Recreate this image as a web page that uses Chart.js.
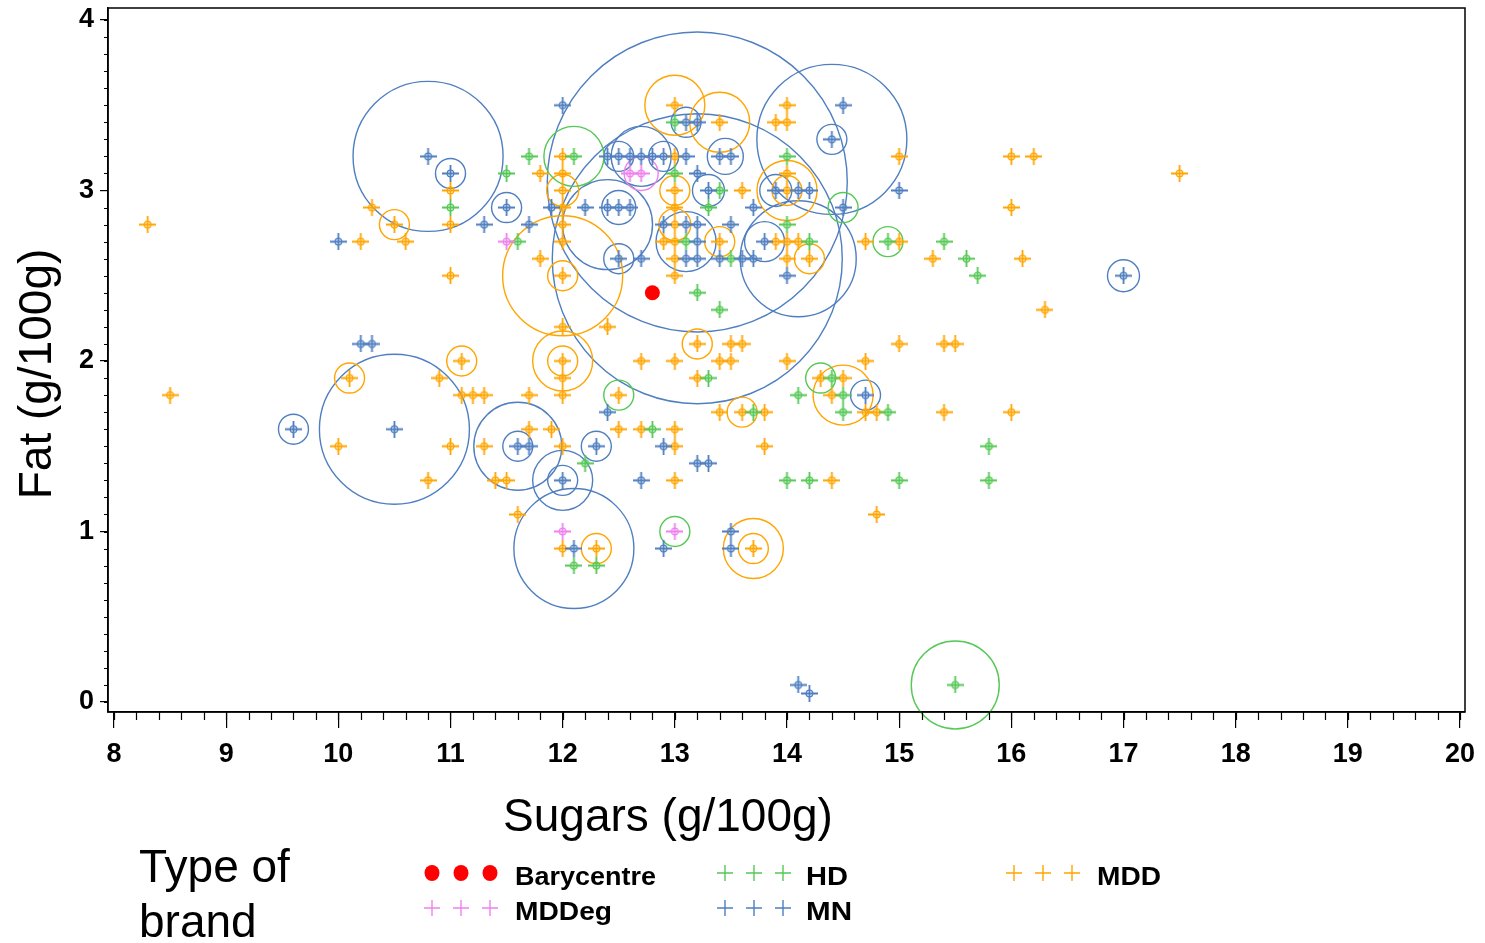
<!DOCTYPE html>
<html>
<head>
<meta charset="utf-8">
<script src="https://cdn.jsdelivr.net/npm/chart.js@4/dist/chart.umd.min.js"></script>
<style>
  html, body { margin: 0; padding: 0; background: #fff; }
  #wrap { width: 1485px; height: 943px; position: relative; }
</style>
</head>
<body>
<div id="wrap"><canvas id="chart" width="1485" height="943"></canvas></div>
<script>
// tick labels
const xTicks = [8, 9, 10, 11, 12, 13, 14, 15, 16, 17, 18, 19, 20];
const yTicks = [0, 1, 2, 3, 4];

// products: [sugars, fat]
const barycentre = [[12.8, 2.4]];

const mnPoints = [
  [10.0,2.7],[10.8,3.2],[11.0,3.1],[11.3,2.8],[11.5,2.9],[11.7,2.8],[11.9,2.9],[12.0,3.5],[12.2,2.9],
  [12.4,2.9],[12.5,2.9],[12.6,2.9],[12.5,2.6],[12.7,2.6],[12.4,3.2],[12.5,3.2],[12.6,3.2],[12.7,3.2],
  [12.8,3.2],[12.9,3.2],[13.1,3.2],[13.1,3.4],[13.2,3.4],[13.2,3.1],[13.3,3.0],[13.4,3.2],[13.5,3.2],
  [13.7,2.9],[12.9,2.8],[13.1,2.8],[13.2,2.8],[13.5,2.8],[13.2,2.7],[13.1,2.6],[13.2,2.6],[13.4,2.6],
  [13.6,2.6],[13.7,2.6],[13.8,2.7],[13.9,3.0],[14.1,3.0],[14.2,3.0],[14.0,2.5],[14.4,3.3],[14.5,3.5],
  [14.5,2.9],[15.0,3.0],[17.0,2.5],[10.2,2.1],[10.3,2.1],[9.6,1.6],[10.5,1.6],[11.6,1.5],[11.7,1.5],
  [12.3,1.5],[12.0,1.3],[12.4,1.7],[12.9,1.5],[13.2,1.4],[13.3,1.4],[12.7,1.3],[12.1,0.9],[12.9,0.9],
  [13.5,1.0],[13.5,0.9],[14.7,1.8],[14.1,0.1],[14.2,0.05]
];

const hdPoints = [
  [11.0,2.9],[11.5,3.1],[11.7,3.2],[11.6,2.7],[12.1,3.2],[13.0,3.4],[13.0,3.1],[13.4,3.0],[13.3,2.9],
  [13.1,2.7],[13.5,2.6],[14.2,2.7],[14.0,3.2],[14.0,2.8],[13.2,2.4],[13.4,2.3],[14.9,2.7],[15.4,2.7],
  [15.6,2.6],[15.7,2.5],[12.2,1.4],[12.8,1.6],[12.1,0.8],[12.3,0.8],[13.3,1.9],[13.7,1.7],[14.1,1.8],
  [14.4,1.9],[14.5,1.8],[14.5,1.7],[14.9,1.7],[14.0,1.3],[14.2,1.3],[15.0,1.3],[15.8,1.5],[15.8,1.3],
  [15.5,0.1]
];

const mddegPoints = [[11.5,2.7],[12.6,3.1],[12.7,3.1],[12.0,1.0],[13.0,1.0]];

const mddPoints = [
  [8.3,2.8],[8.5,1.8],[10.2,2.7],[10.3,2.9],[10.5,2.8],[10.6,2.7],[11.0,3.0],[11.0,2.8],[11.0,2.5],
  [11.8,3.1],[11.8,2.6],[12.0,3.2],[12.0,3.1],[12.0,3.0],[12.0,2.9],[12.0,2.8],[12.0,2.7],[12.0,2.5],
  [12.0,2.2],[12.4,2.2],[13.0,3.5],[13.4,3.4],[13.9,3.4],[14.0,3.4],[14.0,3.5],[15.0,3.2],[13.0,3.2],
  [13.0,3.0],[13.0,2.9],[13.0,2.8],[12.9,2.7],[13.0,2.7],[13.0,2.6],[13.0,2.5],[13.4,2.7],[13.6,3.0],
  [14.0,3.1],[14.0,3.0],[13.9,2.7],[14.0,2.7],[14.1,2.7],[14.0,2.6],[14.2,2.6],[14.7,2.7],[15.0,2.7],
  [15.3,2.6],[16.0,3.2],[16.2,3.2],[16.0,2.9],[16.1,2.6],[16.3,2.3],[17.5,3.1],
  [10.1,1.9],[10.0,1.5],[11.0,1.5],[10.8,1.3],[10.9,1.9],[11.1,2.0],[11.1,1.8],[11.2,1.8],[11.3,1.8],
  [11.7,1.8],[11.3,1.5],[11.7,1.6],[11.9,1.6],[11.4,1.3],[11.5,1.3],[11.6,1.1],[12.0,2.0],[12.0,1.9],
  [12.0,1.8],[12.0,1.5],[12.0,0.9],[12.3,0.9],[12.5,1.8],[12.5,1.6],[12.7,1.6],[13.0,1.6],[13.0,1.5],
  [13.0,1.3],[12.7,2.0],[13.0,2.0],[13.2,2.1],[13.5,2.1],[13.6,2.1],[13.4,2.0],[13.5,2.0],[13.2,1.9],
  [14.0,2.0],[13.4,1.7],[13.6,1.7],[13.8,1.7],[13.8,1.5],[13.7,0.9],[14.4,1.3],[14.8,1.1],[15.0,2.1],
  [15.4,2.1],[15.5,2.1],[14.7,2.0],[14.3,1.9],[14.5,1.9],[14.4,1.8],[14.7,1.7],[14.8,1.7],[15.4,1.7],
  [16.0,1.7]
];

// group circles: [sugars, fat, bubble size]
const mnCircles = [
  [10.8,3.2,75],[11.0,3.1,15],[11.5,2.9,15],[12.5,2.9,17],[12.5,2.6,15],[12.7,3.2,30],[12.4,2.8,45],
  [13.2,3.05,150],[13.2,2.6,145],[14.4,3.3,75],[14.4,3.3,15],[13.8,2.7,20],[14.1,2.6,58],[13.1,2.7,30],
  [13.3,3.0,16],[13.9,3.0,16],[13.1,3.4,15],[13.45,3.2,18],[12.5,3.2,15],[12.9,3.2,15],[14.7,1.8,15],
  [17.0,2.5,16],[9.6,1.6,15],[10.5,1.6,75],[11.6,1.5,44],[11.6,1.5,15],[12.3,1.5,15],[12.0,1.3,15],
  [12.0,1.3,30],[12.1,0.9,60]
];
const mddCircles = [
  [10.5,2.8,15],[12.0,2.5,60],[12.0,2.5,15],[12.0,3.0,16],[13.0,3.5,30],[13.4,3.4,30],[13.0,3.0,15],
  [13.0,2.8,16],[13.4,2.7,15],[14.0,3.0,30],[14.0,3.0,15],[14.2,2.6,15],[10.1,1.9,15],[11.1,2.0,15],
  [12.0,2.0,15],[12.0,2.0,30],[12.3,0.9,15],[13.2,2.1,15],[13.6,1.7,15],[14.5,1.8,30],[13.7,0.9,15],
  [13.7,0.9,30]
];
const hdCircles = [[12.1,3.2,30],[14.5,2.9,15],[14.9,2.7,15],[12.5,1.8,15],[14.3,1.9,15],[13.0,1.0,15],[15.5,0.1,44]];
const mddegCircles = [[12.7,3.1,17]];

const BLUE = '#4f7fc0', ORANGE = '#ffa500', GREEN = '#55c855', PINK = '#ee82ee', RED = '#ff0000';
const SANS = "'Liberation Sans', Arial, Helvetica, sans-serif";
const NARROW = "'Liberation Sans Narrow', 'Liberation Sans', Arial, sans-serif";

function marker(color, ring) {
  const c = document.createElement('canvas');
  c.width = 17; c.height = 17;
  const g = c.getContext('2d');
  g.strokeStyle = color; g.lineWidth = 1.8;
  g.beginPath(); g.moveTo(0, 8.5); g.lineTo(17, 8.5); g.moveTo(8.5, 0); g.lineTo(8.5, 17); g.stroke();
  if (ring) { g.lineWidth = 1.3; g.beginPath(); g.arc(8.5, 8.5, 3.3, 0, Math.PI * 2); g.stroke(); }
  return c;
}

const pts = arr => arr.map(p => ({ x: p[0], y: p[1] }));
const bub = arr => arr.map(p => ({ x: p[0], y: p[1], r: p[2] }));

function markerSet(label, arr, color) {
  return { type: 'scatter', label, data: pts(arr), pointStyle: marker(color, true), pointRadius: 6, hoverRadius: 6 };
}
function circleSet(label, arr, color) {
  return { type: 'bubble', label, data: bub(arr), borderColor: color, backgroundColor: 'rgba(0,0,0,0)',
           borderWidth: 1.4, hoverBorderWidth: 1.4, hoverRadius: 0, clip: false };
}

// frame, minor ticks, titles, legend
const decor = {
  id: 'decor',
  afterDraw(chart) {
    const { ctx, chartArea: a, scales: { x, y } } = chart;
    ctx.save();
    ctx.strokeStyle = '#000';
    ctx.lineWidth = 1.5;
    ctx.strokeRect(a.left, a.top, a.right - a.left, a.bottom - a.top);
    ctx.lineWidth = 1.2;
    ctx.beginPath();
    for (let v = 8; v <= 20.001; v += 0.2) {
      const px = Math.round(x.getPixelForValue(v)) + 0.5;
      ctx.moveTo(px, a.bottom); ctx.lineTo(px, a.bottom + 8);
    }
    for (let v = 0; v <= 4.001; v += 0.1) {
      const py = Math.round(y.getPixelForValue(v)) + 0.5;
      ctx.moveTo(a.left - 4, py); ctx.lineTo(a.left, py);
    }
    ctx.stroke();

    ctx.fillStyle = '#000';
    ctx.font = '46px ' + SANS;
    ctx.textAlign = 'center'; ctx.textBaseline = 'middle';
    ctx.fillText('Sugars (g/100g)', 668, 818);
    ctx.save();
    ctx.translate(38, 374); ctx.rotate(-Math.PI / 2);
    ctx.fillText('Fat (g/100g)', 0, 0);
    ctx.restore();
    ctx.textAlign = 'left'; ctx.textBaseline = 'alphabetic';
    ctx.fillText('Type of', 139, 882);
    ctx.fillText('brand', 139, 937);

    // legend
    const items = [
      { t: 'Barycentre', c: RED, dot: true, mx: 432, tx: 515, ty: 878, w: 141 },
      { t: 'HD', c: GREEN, mx: 725, tx: 806, ty: 878, w: 42 },
      { t: 'MDD', c: ORANGE, mx: 1014, tx: 1097, ty: 878, w: 64 },
      { t: 'MDDeg', c: PINK, mx: 432, tx: 515, ty: 913, w: 97 },
      { t: 'MN', c: BLUE, mx: 725, tx: 806, ty: 913, w: 46 }
    ];
    items.forEach(it => {
      for (let k = 0; k < 3; k++) {
        const cx = it.mx + k * 29, cy = it.ty - 5;
        if (it.dot) {
          ctx.fillStyle = it.c;
          ctx.beginPath(); ctx.ellipse(cx, cy, 7.5, 8, 0, 0, Math.PI * 2); ctx.fill();
        } else {
          ctx.strokeStyle = it.c; ctx.lineWidth = 1.4;
          ctx.beginPath();
          ctx.moveTo(cx - 8, cy); ctx.lineTo(cx + 8, cy);
          ctx.moveTo(cx, cy - 8); ctx.lineTo(cx, cy + 8);
          ctx.stroke();
        }
      }
      ctx.fillStyle = '#000';
      ctx.font = 'bold 25px ' + NARROW;
      ctx.textBaseline = 'middle';
      const m = ctx.measureText(it.t).width;
      ctx.save();
      ctx.translate(it.tx, it.ty);
      ctx.scale(it.w / m, 1);
      ctx.fillText(it.t, 0, 0);
      ctx.restore();
    });
    ctx.restore();
  }
};

new Chart(document.getElementById('chart'), {
  data: {
    datasets: [
      { type: 'scatter', label: 'Barycentre', data: pts(barycentre), pointStyle: 'circle', pointRadius: 7.5,
        backgroundColor: RED, borderColor: RED, borderWidth: 0 },
      markerSet('MDDeg', mddegPoints, PINK),
      markerSet('MN', mnPoints, BLUE),
      markerSet('HD', hdPoints, GREEN),
      markerSet('MDD', mddPoints, ORANGE),
      circleSet('MDDeg groups', mddegCircles, PINK),
      circleSet('HD groups', hdCircles, GREEN),
      circleSet('MDD groups', mddCircles, ORANGE),
      circleSet('MN groups', mnCircles, BLUE)
    ]
  },
  options: {
    responsive: false,
    animation: false,
    events: [],
    layout: { autoPadding: false, padding: { top: 8, right: 20, bottom: 111, left: 0 } },
    plugins: { legend: { display: false }, tooltip: { enabled: false } },
    scales: {
      x: {
        type: 'linear', position: 'bottom',
        min: 8 - 6 / 112.17, max: 20 + 5 / 112.17,
        afterBuildTicks: s => { s.ticks = xTicks.map(v => ({ value: v })); },
        afterFit: s => { s.height = 120; s.paddingLeft = 0; s.paddingRight = 0; },
        grid: { drawOnChartArea: false, drawTicks: true, tickLength: 16, color: '#000', lineWidth: 1.2 },
        border: { display: true, color: '#000', width: 1.5 },
        ticks: { color: '#000', padding: 10, maxRotation: 0, autoSkip: false,
                 font: { family: NARROW, size: 27, weight: 'bold' } }
      },
      y: {
        type: 'linear', position: 'left',
        min: -10 / 170.5, max: 4 + 12 / 170.5,
        afterBuildTicks: s => { s.ticks = yTicks.map(v => ({ value: v })); },
        afterFit: s => { s.width = 108; s.paddingTop = 0; s.paddingBottom = 0; },
        grid: { drawOnChartArea: false, drawTicks: true, tickLength: 8, color: '#000', lineWidth: 1.2 },
        border: { display: true, color: '#000', width: 1.5 },
        ticks: { color: '#000', padding: 6, font: { family: NARROW, size: 27, weight: 'bold' } }
      }
    }
  },
  plugins: [decor]
});
</script>
</body>
</html>
